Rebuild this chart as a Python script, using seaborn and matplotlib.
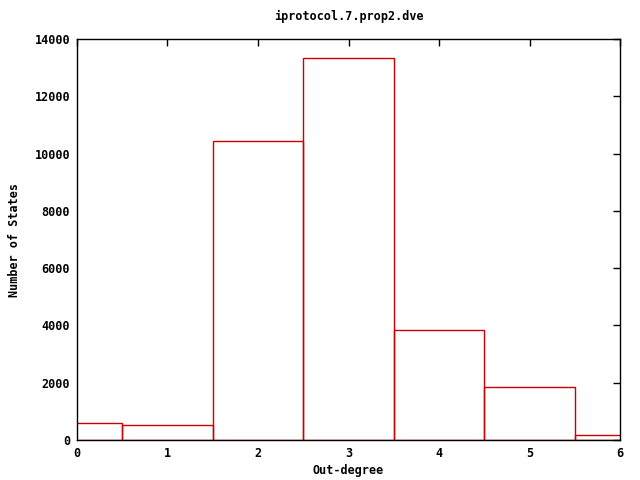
import matplotlib

matplotlib.use("Agg")
import matplotlib.pyplot as plt
import pandas as pd
import seaborn as sns

# out-degree histogram values
out_degree = [0, 1, 2, 3, 4, 5, 6]
num_states = [590, 525, 10430, 13350, 3840, 1845, 165]

TITLE = "iprotocol.7.prop2.dve"
RED = "#cc0000"

sns.set_style("white")
plt.rcParams["font.family"] = ["DejaVu Sans Mono"]
plt.rcParams["font.weight"] = "bold"
plt.rcParams["font.size"] = 8.5
plt.rcParams["text.color"] = "black"
plt.rcParams["axes.labelcolor"] = "black"

df = pd.DataFrame({"deg": out_degree, "n": num_states})

fig = plt.figure(figsize=(6.4, 4.8), dpi=100)
ax = fig.add_axes([0.1203, 0.0833, 0.8485, 0.8354])
sns.histplot(data=df, x="deg", weights="n", discrete=True, element="bars",
             fill=False, color=RED, linewidth=1.0, ax=ax)

ax.set_xlim(0, 6)
ax.set_ylim(0, 14000)
ax.set_xticks(range(0, 7))
ax.set_yticks(range(0, 14001, 2000))
ax.tick_params(direction="in", length=5, width=1, top=True, right=True,
               colors="black", labelsize=8.5, pad=5)
for lab in ax.get_xticklabels() + ax.get_yticklabels():
    lab.set_fontweight("bold")
for sp in ax.spines.values():
    sp.set_color("black")
    sp.set_linewidth(1.0)

ax.set_title(TITLE, fontsize=8.5, fontweight="bold", pad=14, color="black")
ax.set_xlabel("Out-degree", fontsize=8.5, fontweight="bold", labelpad=3)
ax.set_ylabel("Number of States", fontsize=8.5, fontweight="bold", labelpad=10)

fig.savefig("out.png", dpi=100, facecolor="white")
